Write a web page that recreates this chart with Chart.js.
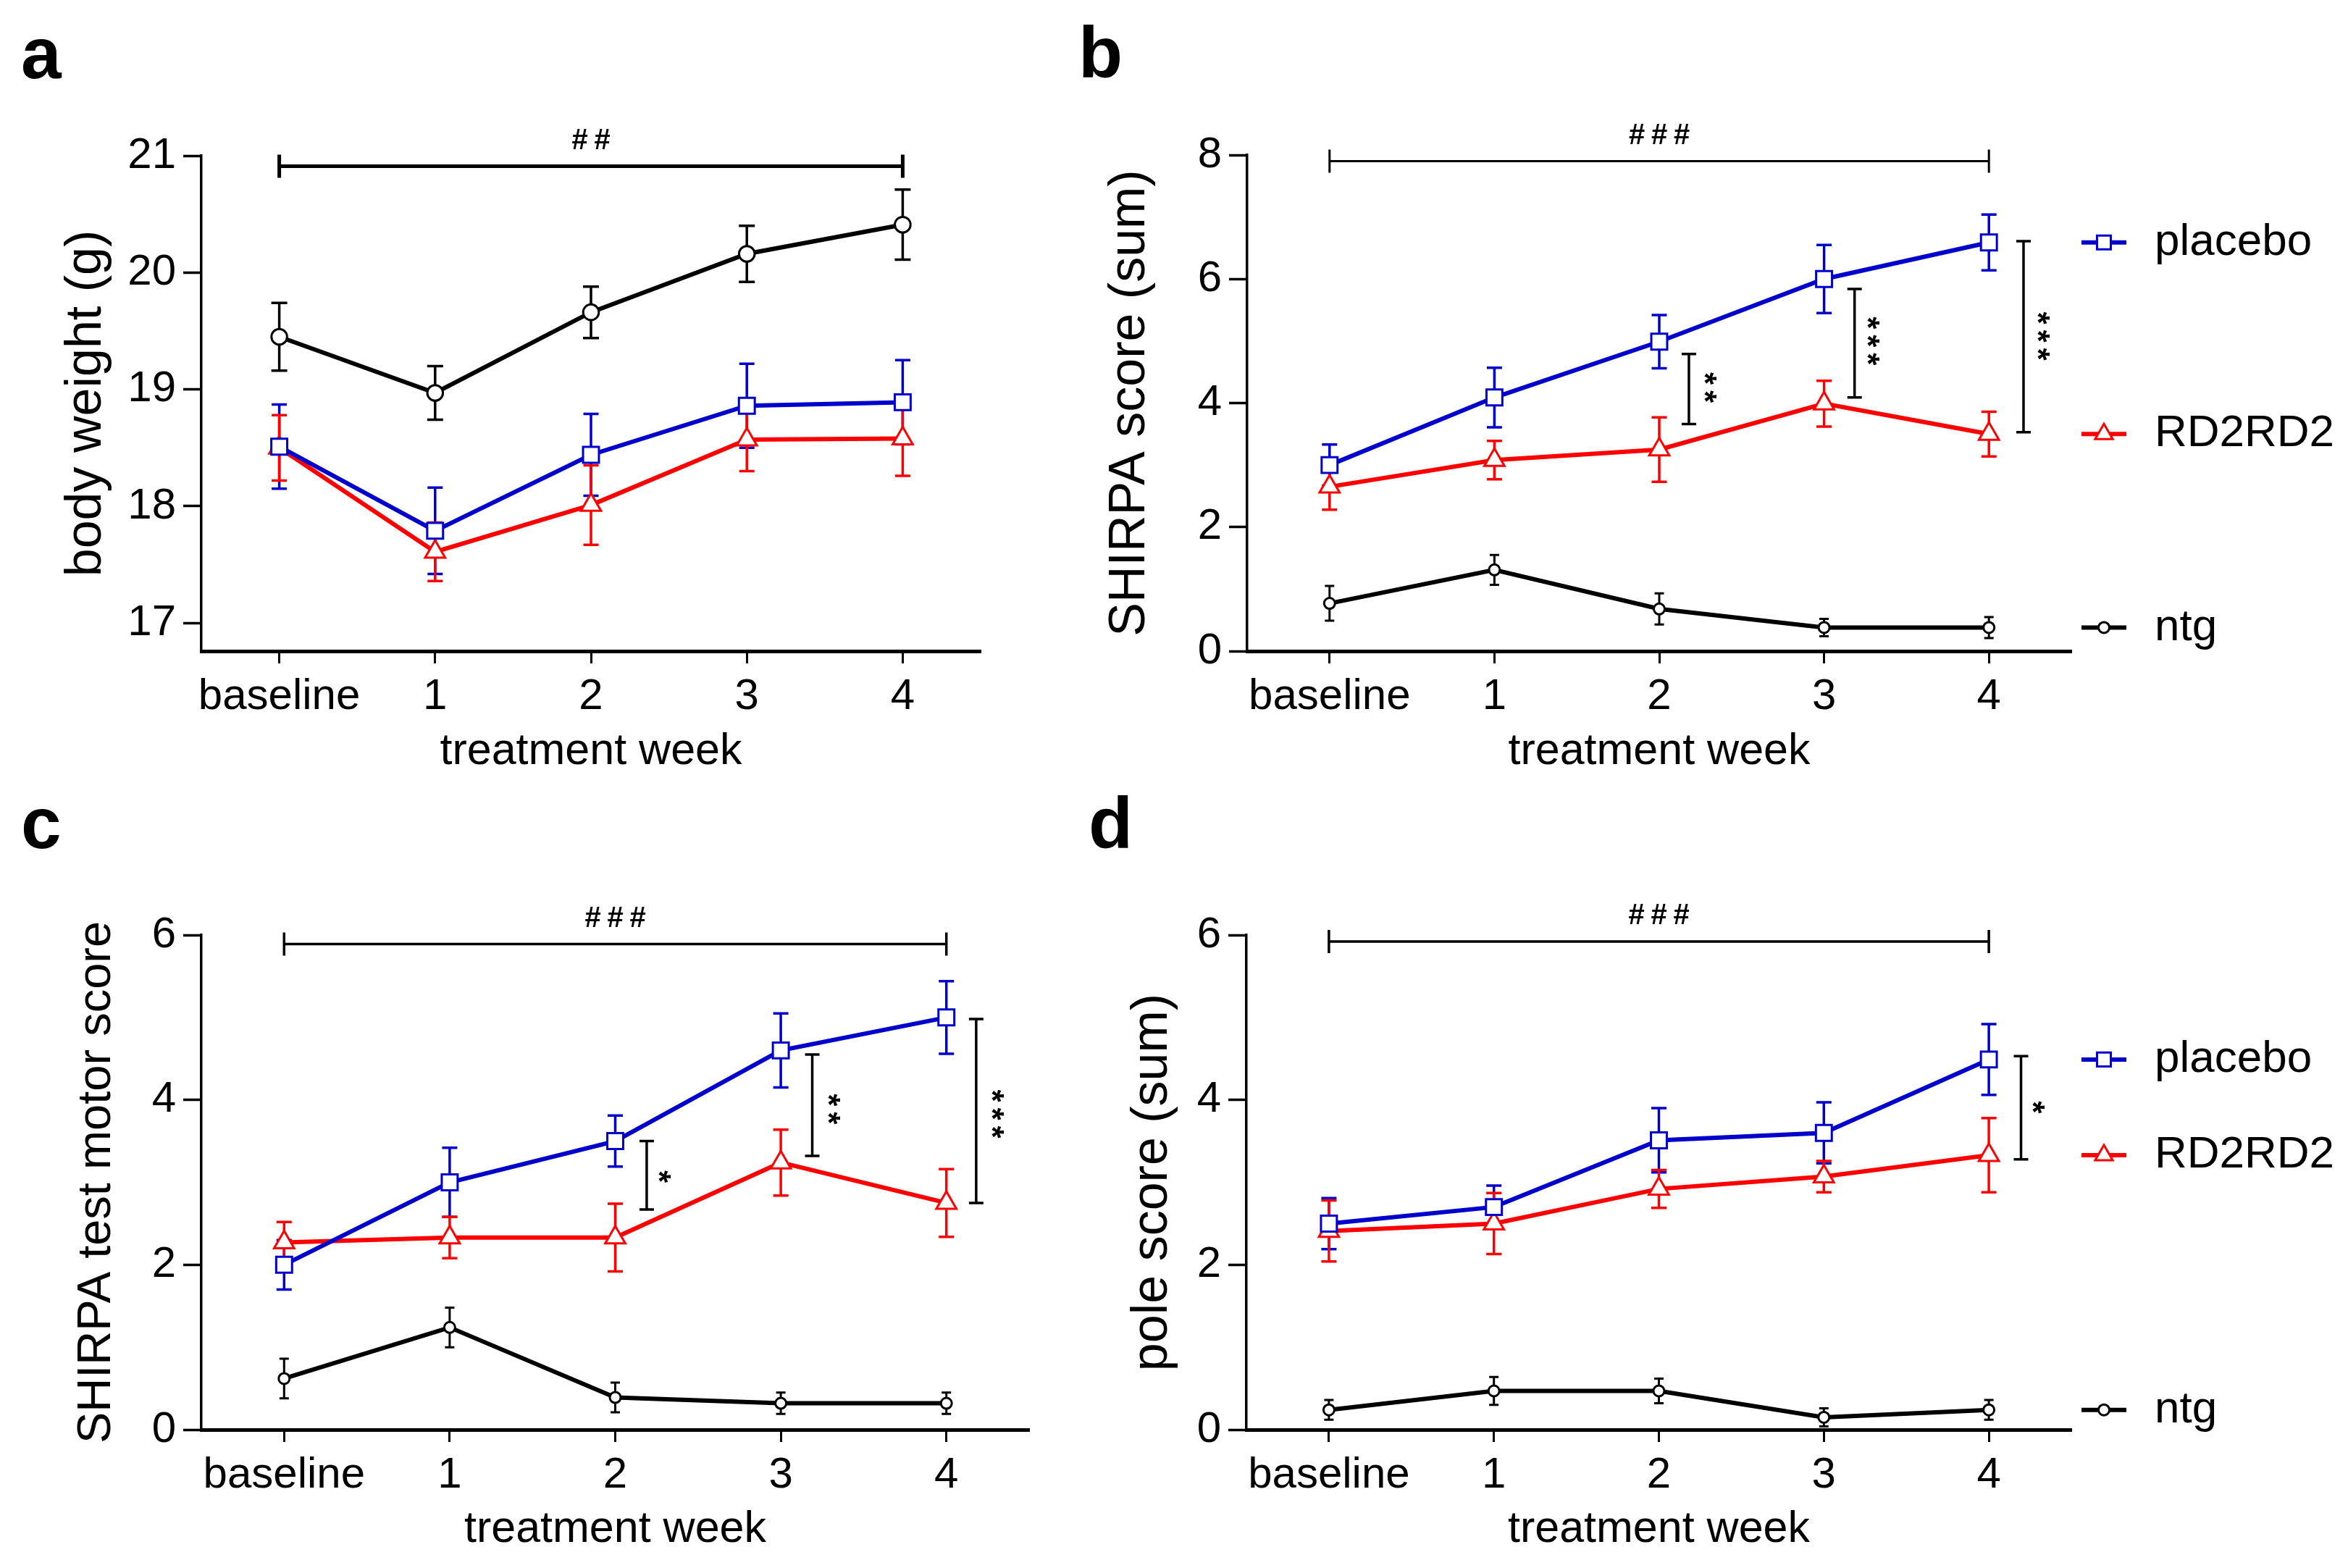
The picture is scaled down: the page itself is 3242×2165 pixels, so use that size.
<!DOCTYPE html>
<html>
<head>
<meta charset="utf-8">
<script src="https://cdn.jsdelivr.net/npm/chart.js@4.4.1/dist/chart.umd.min.js"></script>
<style>
  html, body { margin: 0; padding: 0; background: #fff; }
  body { width: 3242px; height: 2165px; position: relative; overflow: hidden; }
  canvas { position: absolute; }
</style>
</head>
<body>
<canvas id="panelA" width="1450" height="1080" style="left:0px;top:0px;width:1450px;height:1080px"></canvas>
<canvas id="panelB" width="1792" height="1080" style="left:1450px;top:0px;width:1792px;height:1080px"></canvas>
<canvas id="panelC" width="1450" height="1085" style="left:0px;top:1080px;width:1450px;height:1085px"></canvas>
<canvas id="panelD" width="1792" height="1085" style="left:1450px;top:1080px;width:1792px;height:1085px"></canvas>
<script>
// ---- data (mean and SEM) ----
const weeks = ["baseline", "1", "2", "3", "4"];
const groups = ["placebo", "RD2RD2", "ntg"];

// a: body weight (g)
const weightPlacebo = [18.51, 17.79, 18.44, 18.86, 18.89];
const weightPlaceboSem = [0.36, 0.37, 0.35, 0.36, 0.36];
const weightRD2RD2 = [18.50, 17.61, 18.01, 18.57, 18.58];
const weightRD2RD2Sem = [0.28, 0.25, 0.34, 0.27, 0.32];
const weightNtg = [19.45, 18.97, 19.66, 20.16, 20.41];
const weightNtgSem = [0.29, 0.23, 0.22, 0.24, 0.30];

// b: SHIRPA score (sum)
const shirpaPlacebo = [3.0, 4.09, 4.99, 6.0, 6.59];
const shirpaPlaceboSem = [0.33, 0.48, 0.43, 0.55, 0.45];
const shirpaRD2RD2 = [2.65, 3.08, 3.25, 3.99, 3.5];
const shirpaRD2RD2Sem = [0.37, 0.31, 0.52, 0.37, 0.36];
const shirpaNtg = [0.77, 1.31, 0.68, 0.38, 0.38];
const shirpaNtgSem = [0.28, 0.24, 0.25, 0.14, 0.17];

// c: SHIRPA test motor score
const motorPlacebo = [2.0, 3.0, 3.5, 4.6, 5.0];
const motorPlaceboSem = [0.30, 0.42, 0.31, 0.45, 0.44];
const motorRD2RD2 = [2.27, 2.33, 2.33, 3.24, 2.75];
const motorRD2RD2Sem = [0.25, 0.25, 0.41, 0.40, 0.41];
const motorNtg = [0.62, 1.24, 0.39, 0.32, 0.32];
const motorNtgSem = [0.24, 0.24, 0.18, 0.13, 0.13];

// d: pole score (sum)
const polePlacebo = [2.5, 2.7, 3.51, 3.6, 4.49];
const polePlaceboSem = [0.31, 0.26, 0.39, 0.37, 0.43];
const poleRD2RD2 = [2.41, 2.5, 2.92, 3.07, 3.33];
const poleRD2RD2Sem = [0.37, 0.37, 0.23, 0.19, 0.45];
const poleNtg = [0.24, 0.47, 0.47, 0.15, 0.24];
const poleNtgSem = [0.12, 0.17, 0.15, 0.11, 0.12];

// significance marks: [x, yTop, yBottom, text, textX, textY]
const weightHash = [0, 4, 20.91, "##"];
const shirpaHash = [0, 4, 7.9, "###"];
const shirpaStars = [[2.18, 4.79, 3.66, "**", 2.32, 4.25], [3.185, 5.84, 4.09, "***", 3.31, 5.0], [4.21, 6.61, 3.53, "***", 4.34, 5.08]];
const motorHash = [0, 4, 5.89, "###"];
const motorStars = [[2.19, 3.5, 2.67, "*", 2.31, 3.07], [3.19, 4.55, 3.32, "**", 3.33, 3.89], [4.18, 4.98, 2.75, "***", 4.32, 3.83]];
const poleHash = [0, 4, 5.92, "###"];
const poleStars = [[4.195, 4.53, 3.28, "*", 4.31, 3.91]];

const FONT = "'Liberation Sans', Arial, Helvetica, sans-serif";
Chart.defaults.font.family = FONT;
Chart.defaults.color = "#000";

const colors = ["#0000CC", "#FF0000", "#000000"];
const markers = ["rect", "triangle", "circle"];

// error bars, brackets, stars, side legend and panel letter
const gpExtras = {
  id: "gpExtras",
  beforeDatasetsDraw(chart) {
    const { ctx, scales: { x, y } } = chart;
    chart.data.datasets.forEach((ds) => {
      ctx.save();
      ctx.strokeStyle = ds.borderColor;
      ctx.lineWidth = ds.errWidth;
      ds.data.forEach((v, j) => {
        const px = x.getPixelForValue(j);
        const top = y.getPixelForValue(v + ds.sem[j]);
        const bot = y.getPixelForValue(v - ds.sem[j]);
        const c = ds.errCap;
        ctx.beginPath();
        ctx.moveTo(px, top); ctx.lineTo(px, bot);
        ctx.moveTo(px - c, top); ctx.lineTo(px + c, top);
        ctx.moveTo(px - c, bot); ctx.lineTo(px + c, bot);
        ctx.stroke();
      });
      ctx.restore();
    });
  },
  afterDraw(chart, args, opts) {
    const { ctx, chartArea, scales: { x, y } } = chart;
    ctx.save();
    ctx.fillStyle = "#000";
    ctx.strokeStyle = "#000";

    // horizontal ### bracket
    if (opts.hash) {
      const [a, b, v, txt] = opts.hash;
      const x1 = x.getPixelForValue(a), x2 = x.getPixelForValue(b), py = y.getPixelForValue(v);
      ctx.lineWidth = opts.hashWidth;
      ctx.beginPath();
      ctx.moveTo(x1, py); ctx.lineTo(x2, py);
      ctx.moveTo(x1, py - 16); ctx.lineTo(x1, py + 16);
      ctx.moveTo(x2, py - 16); ctx.lineTo(x2, py + 16);
      ctx.stroke();
      ctx.font = "bold 40px " + FONT;
      ctx.textAlign = "center";
      ctx.textBaseline = "alphabetic";
      const mid = (x1 + x2) / 2, n = txt.length, gap = 31;
      for (let k = 0; k < n; k++) {
        ctx.fillText(txt[k], mid + (k - (n - 1) / 2) * gap, py - 24);
      }
    }

    // vertical star brackets
    (opts.stars || []).forEach(([sx, y1, y2, txt, tx, ty]) => {
      const px = x.getPixelForValue(sx), p1 = y.getPixelForValue(y1), p2 = y.getPixelForValue(y2);
      ctx.lineWidth = 3.5;
      ctx.beginPath();
      ctx.moveTo(px, p1); ctx.lineTo(px, p2);
      ctx.moveTo(px - 10, p1); ctx.lineTo(px + 10, p1);
      ctx.moveTo(px - 10, p2); ctx.lineTo(px + 10, p2);
      ctx.stroke();
      const cx = x.getPixelForValue(tx), cy = y.getPixelForValue(ty);
      ctx.font = "bold 44px " + FONT;
      ctx.textAlign = "center";
      ctx.textBaseline = "alphabetic";
      const n = txt.length, gap = 25;
      for (let k = 0; k < n; k++) {
        ctx.save();
        ctx.translate(cx, cy + (k - (n - 1) / 2) * gap);
        ctx.rotate(Math.PI / 2);
        ctx.fillText("*", 0, 25);
        ctx.restore();
      }
    });

    // legend at the end of each line
    if (opts.legend) {
      chart.data.datasets.forEach((ds) => {
        const py = y.getPixelForValue(ds.data[ds.data.length - 1]);
        const lx = chartArea.right + 14;
        ctx.strokeStyle = ds.borderColor;
        ctx.lineWidth = 6;
        ctx.beginPath();
        ctx.moveTo(lx, py); ctx.lineTo(lx + 62, py);
        ctx.stroke();
        ctx.fillStyle = "#fff";
        ctx.lineWidth = 3;
        Chart.helpers.drawPoint(ctx, { pointStyle: ds.pointStyle, radius: ds.legendRadius, borderWidth: 3, rotation: 0 }, lx + 31, py);
        ctx.fillStyle = "#000";
        ctx.font = "62px " + FONT;
        ctx.textAlign = "left";
        ctx.textBaseline = "middle";
        ctx.fillText(ds.label, chartArea.right + 115, py);
      });
    }

    // panel letter
    ctx.fillStyle = "#000";
    ctx.font = "bold 100px " + FONT;
    ctx.textAlign = "left";
    ctx.textBaseline = "alphabetic";
    ctx.fillText(opts.letter[0], opts.letter[1], opts.letter[2]);
    ctx.restore();
  }
};

function makePanel(id, p) {
  const datasets = groups.map((g, i) => ({
    label: g,
    data: p.means[i],
    sem: p.sems[i],
    borderColor: colors[i],
    backgroundColor: "#fff",
    borderWidth: 6,
    tension: 0,
    clip: false,
    pointStyle: markers[i],
    pointRadius: i === 2 ? p.ntgRadius : (i === 0 ? 15.5 : 16),
    pointBorderWidth: 3,
    pointBackgroundColor: "#fff",
    pointBorderColor: colors[i],
    errWidth: i === 2 ? p.ntgErrWidth : 3.5,
    errCap: i === 2 ? p.ntgCap : 10.5,
    legendRadius: i === 0 ? 13.5 : (i === 1 ? 14 : 7.5)
  }));

  return new Chart(document.getElementById(id), {
    type: "line",
    data: { labels: weeks, datasets: datasets },
    options: {
      responsive: false,
      devicePixelRatio: 1,
      animation: false,
      events: [],
      layout: { padding: { left: 0, top: p.top, right: p.right, bottom: 0 } },
      plugins: {
        legend: { display: false },
        tooltip: { enabled: false },
        gpExtras: { hash: p.hash, hashWidth: p.hashWidth, stars: p.stars, legend: p.legend, letter: p.letter }
      },
      scales: {
        x: {
          type: "category",
          offset: true,
          grid: { offset: false, drawOnChartArea: false, drawTicks: true, tickLength: 17, tickWidth: 3, tickColor: "#000" },
          border: { display: true, color: "#000", width: 5 },
          ticks: { color: "#000", font: { size: 60 }, padding: 10, maxRotation: 0, autoSkip: false },
          title: { display: true, text: "treatment week", color: "#000", font: { size: 61 }, padding: { top: 0, bottom: p.xTitlePad } },
          afterFit: (s) => { s.height = p.xH; }
        },
        y: {
          type: "linear",
          min: p.yMin,
          max: p.yMax,
          ticks: { stepSize: p.yStep, includeBounds: false, color: "#000", font: { size: 60 }, padding: 10 },
          grid: { drawOnChartArea: false, drawTicks: true, tickLength: 25, tickWidth: 3.5, tickColor: "#000" },
          border: { display: true, color: "#000", width: 3.5 },
          title: { display: true, text: p.yTitle, color: "#000", font: { size: p.yTitleSize }, padding: { top: p.yTitlePad, bottom: 0 } },
          afterFit: (s) => { s.width = p.leftW; }
        }
      }
    },
    plugins: [gpExtras]
  });
}

makePanel("panelA", {
  means: [weightPlacebo, weightRD2RD2, weightNtg],
  sems: [weightPlaceboSem, weightRD2RD2Sem, weightNtgSem],
  yMin: 16.76, yMax: 21, yStep: 1,
  yTitle: "body weight (g)", yTitleSize: 70, yTitlePad: 78,
  top: 215, right: 96, leftW: 278, xH: 181, xTitlePad: 5,
  hash: weightHash, hashWidth: 5, stars: [], legend: false,
  ntgRadius: 10.8, ntgErrWidth: 3.5, ntgCap: 11,
  letter: ["a", 29, 108]
});

makePanel("panelB", {
  means: [shirpaPlacebo, shirpaRD2RD2, shirpaNtg],
  sems: [shirpaPlaceboSem, shirpaRD2RD2Sem, shirpaNtgSem],
  yMin: 0, yMax: 8, yStep: 2,
  yTitle: "SHIRPA score (sum)", yTitleSize: 70, yTitlePad: 69,
  top: 214, right: 382, leftW: 272, xH: 181, xTitlePad: 5,
  hash: shirpaHash, hashWidth: 3, stars: shirpaStars, legend: true,
  ntgRadius: 7.5, ntgErrWidth: 3, ntgCap: 6.5,
  letter: ["b", 39, 107]
});

makePanel("panelC", {
  means: [motorPlacebo, motorRD2RD2, motorNtg],
  sems: [motorPlaceboSem, motorRD2RD2Sem, motorNtgSem],
  yMin: 0, yMax: 6, yStep: 2,
  yTitle: "SHIRPA test motor score", yTitleSize: 65, yTitlePad: 95,
  top: 211, right: 29, leftW: 278, xH: 191, xTitlePad: 16,
  hash: motorHash, hashWidth: 3.5, stars: motorStars, legend: false,
  ntgRadius: 7.5, ntgErrWidth: 3, ntgCap: 6.5,
  letter: ["c", 29, 91]
});

makePanel("panelD", {
  means: [polePlacebo, poleRD2RD2, poleNtg],
  sems: [polePlaceboSem, poleRD2RD2Sem, poleNtgSem],
  yMin: 0, yMax: 6, yStep: 2,
  yTitle: "pole score (sum)", yTitleSize: 70, yTitlePad: 100,
  top: 211, right: 382, leftW: 271, xH: 191, xTitlePad: 16,
  hash: poleHash, hashWidth: 3.5, stars: poleStars, legend: true,
  ntgRadius: 7.5, ntgErrWidth: 3, ntgCap: 6.5,
  letter: ["d", 53, 91]
});
</script>
</body>
</html>
